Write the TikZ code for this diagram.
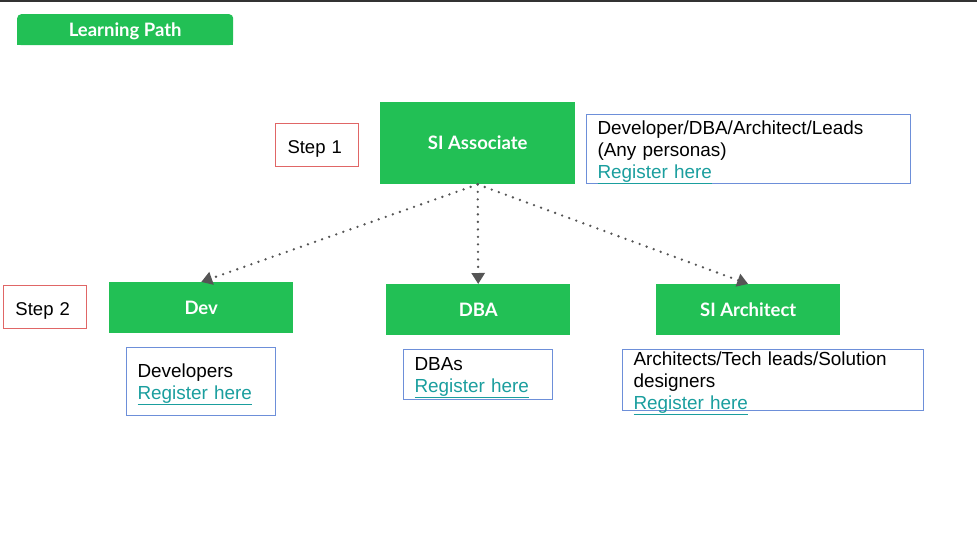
\documentclass[tikz,border=0pt]{standalone}
\usepackage{fontspec}
\setmainfont{Liberation Sans}
\newfontfamily\greenfont{Lato}
\usetikzlibrary{arrows.meta}

\definecolor{pathgreen}{HTML}{22C055}
\definecolor{stepred}{HTML}{E06666}
\definecolor{infoblue}{HTML}{6D8FD9}
\definecolor{linkteal}{HTML}{1A9E9E}
\definecolor{arrowgray}{HTML}{555555}
\newcommand{\reglink}{\textcolor{linkteal}{\underline{Register here}}}

\begin{document}
\begin{tikzpicture}[x=1pt,y=-1pt,
        role/.style={fill=pathgreen,text=white,inner sep=0pt,anchor=north west,text height=13pt,text depth=0pt,font=\greenfont\bfseries\fontsize{18.5}{22}\selectfont},
        stepbox/.style={draw=stepred,line width=1pt,inner xsep=12pt,inner ysep=0pt,anchor=north west,minimum width=83pt,minimum height=43pt,text width=59pt,align=left,text height=17pt,text depth=0pt,font=\fontsize{18.5}{22}\selectfont},
        info/.style={draw=infoblue,line width=1pt,inner xsep=11pt,inner ysep=0pt,anchor=north west,align=left,execute at begin node={\rule{0pt}{19.5pt}},font=\fontsize{18.9}{22}\selectfont},
        flow/.style={arrowgray,line width=2.6pt,line cap=round,dash pattern=on 0pt off 7.5pt,-{Triangle[width=13pt,length=11pt]}}]
        \useasboundingbox (0,0) rectangle (977,554);
        \fill[black!80] (0,0) rectangle (977,1.5);

        % title tab
        \node[role,rounded corners=4pt,minimum width=216pt,minimum height=31pt] (title) at (17,14) {Learning Path};
        \fill[pathgreen] (title.south west) rectangle +(5,-5);
        \fill[pathgreen] (title.south east) rectangle +(-5,-5);

        % step 1
        \node[stepbox] (step1) at (275,123) {Step 1};
        \node[role,minimum width=195pt,minimum height=82pt] (assoc) at (380,102) {SI Associate};
        \node[info,minimum width=324pt,minimum height=69pt,text width=302pt] (associnfo) at (586,114)
            {Developer/DBA/Architect/Leads\\(Any personas)\\\reglink};

        % step 2
        \node[stepbox] (step2) at (3,285) {Step 2};
        \node[role,minimum width=184pt,minimum height=51pt] (dev) at (109,282) {Dev};
        \node[role,minimum width=184pt,minimum height=51pt] (dba) at (386,284) {DBA};
        \node[role,minimum width=184pt,minimum height=51pt] (arch) at (656,284) {SI Architect};
        \node[info,minimum width=149pt,minimum height=68pt,text width=127pt] (devinfo) at (126,347)
            {Developers\\\reglink};
        \node[info,minimum width=149pt,minimum height=50pt,text width=127pt] (dbainfo) at (403,349)
            {DBAs\\\reglink};
        \node[info,inner ysep=-4pt,minimum width=301pt,text width=279pt] (archinfo) at (622,349)
            {Architects/Tech leads/Solution\\designers\\\reglink};

        \draw[flow] (assoc.south) -- (dev.north);
        \draw[flow] (assoc.south) -- (dba.north);
        \draw[flow] (assoc.south) -- (arch.north);
    \end{tikzpicture}
\end{document}
